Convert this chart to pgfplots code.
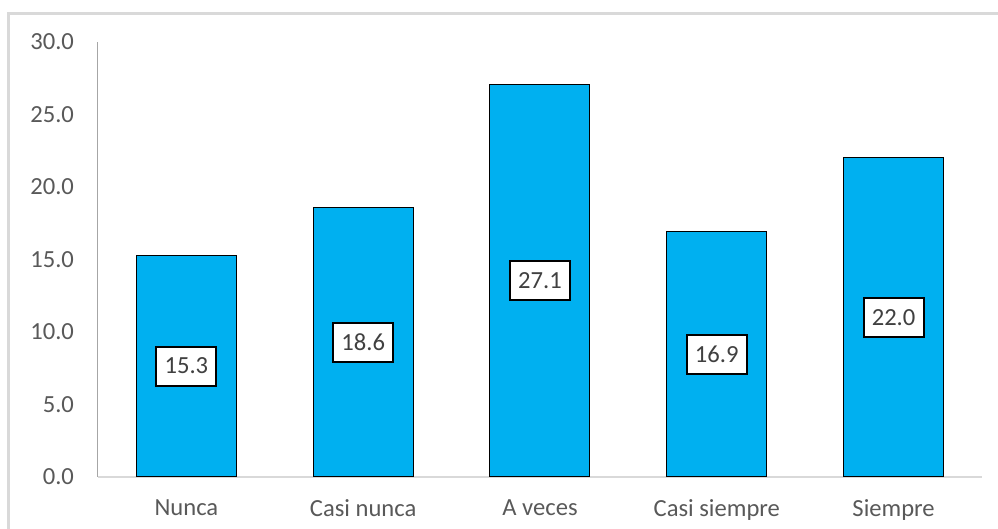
\documentclass[border=0pt]{standalone}
\usepackage{fontspec}
\setmainfont{Carlito}
\usepackage{pgfplots}
\pgfplotsset{compat=1.18}
\definecolor{barblue}{HTML}{00B0F0}
\definecolor{txtgray}{HTML}{595959}
\definecolor{lblgray}{HTML}{404040}
\definecolor{bordergray}{HTML}{D9D9D9}
\begin{document}
\begin{tikzpicture}
\useasboundingbox (0,0) rectangle (499pt,264.5pt);
\draw[color=bordergray, line width=1.5pt] (4pt,0) -- (4pt,257.5pt) -- (499pt,257.5pt);
\begin{axis}[
  at={(49pt,26pt)}, anchor=south west,
  scale only axis, width=442pt, height=217.5pt,
  xmin=-0.5, xmax=4.5, ymin=0, ymax=30,
  xtick={0,1,2,3,4},
  xticklabels={Nunca, Casi nunca, A veces, Casi siempre, Siempre},
  ytick={0,5,10,15,20,25,30},
  yticklabel style={/pgf/number format/fixed, /pgf/number format/fixed zerofill, /pgf/number format/precision=1, /pgf/number format/assume math mode=true},
  axis x line*=bottom, axis y line*=left,
  axis line style={-},
  x axis line style={draw=bordergray, line width=1pt},
  y axis line style={draw=gray!70, line width=0.5pt},
  major tick length=0pt,
  tick label style={font=\fontsize{12.3}{14}\selectfont, text=txtgray},
  yticklabel style={xshift=-8.5pt},
  xticklabel style={yshift=-8pt},
  ybar, bar width=50pt, bar shift=0pt,
  visualization depends on={y \as \rawy},
  nodes near coords={\pgfmathprintnumber[fixed,fixed zerofill,precision=1,assume math mode=true]{\pgfplotspointmeta}},
  every node near coord/.append style={anchor=center, yshift={-3.625pt*\rawy}, draw=black, line width=1pt, fill=white, text=lblgray, font=\fontsize{12.3}{14}\selectfont, minimum width=30pt, minimum height=19.5pt, inner sep=0pt},
]
\addplot[fill=barblue, draw=black, line width=0.5pt] coordinates {(0,15.3) (1,18.6) (2,27.1) (3,16.9) (4,22.0)};
\end{axis}
\end{tikzpicture}
\end{document}
